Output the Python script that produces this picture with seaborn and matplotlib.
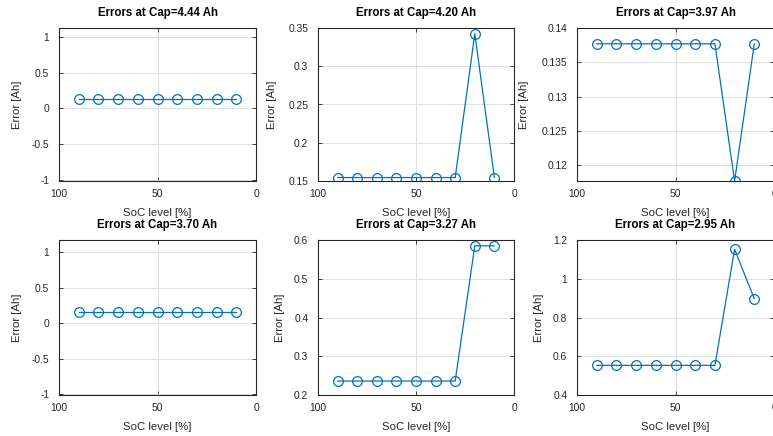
import matplotlib
matplotlib.use("Agg")
import matplotlib.pyplot as plt
import seaborn as sns
import pandas as pd
from matplotlib.ticker import FuncFormatter

soc = [90, 80, 70, 60, 50, 40, 30, 20, 10]
caps = ["4.44", "4.20", "3.97", "3.70", "3.27", "2.95"]
err_444 = [0.13, 0.13, 0.13, 0.13, 0.13, 0.13, 0.13, 0.13, 0.13]
err_420 = [0.1545, 0.1545, 0.1545, 0.1545, 0.1545, 0.1545, 0.1545, 0.3425, 0.1545]
err_397 = [0.1377, 0.1377, 0.1377, 0.1377, 0.1377, 0.1377, 0.1377, 0.1177, 0.1377]
err_370 = [0.155, 0.155, 0.155, 0.155, 0.155, 0.155, 0.155, 0.155, 0.155]
err_327 = [0.236, 0.236, 0.236, 0.236, 0.236, 0.236, 0.236, 0.585, 0.585]
err_295 = [0.553, 0.553, 0.553, 0.553, 0.553, 0.553, 0.553, 1.152, 0.897]
errors = [err_444, err_420, err_397, err_370, err_327, err_295]

ylims = [(-1.02, 1.13), (0.15, 0.35), (0.1177, 0.14),
         (-1.01, 1.17), (0.2, 0.6), (0.4, 1.2)]
yticks = [[-1, -0.5, 0, 0.5, 1], [0.15, 0.2, 0.25, 0.3, 0.35],
          [0.12, 0.125, 0.13, 0.135, 0.14],
          [-1, -0.5, 0, 0.5, 1], [0.2, 0.3, 0.4, 0.5, 0.6],
          [0.4, 0.6, 0.8, 1, 1.2]]
xticks = [100, 50, 0]

sns.set_theme(style="white")
plt.rcParams['font.family'] = ['Liberation Sans', 'DejaVu Sans']

W, H = 773, 436
fig = plt.figure(figsize=(W / 100, H / 100), dpi=100)

# pixel boxes: (left, right) and (top, bottom)
cols = [(59, 256), (318, 514), (577, 774)]
rows = [(28, 181), (240, 395)]
ylab_x = [-0.187, -0.209, -0.243, -0.187, -0.168, -0.167]

axis_col = "#262626"
line_col = "#0072BD"

for i in range(6):
    r, c = divmod(i, 3)
    l, rr = cols[c]
    t, b = rows[r]
    ax = fig.add_axes([l / W, 1 - b / H, (rr - l) / W, (b - t) / H])
    df = pd.DataFrame({"soc": soc, "err": errors[i]})
    sns.lineplot(data=df, x="soc", y="err", ax=ax, color=line_col,
                 linewidth=0.9, marker="o", markersize=7,
                 markerfacecolor="none", markeredgecolor=line_col,
                 markeredgewidth=0.9)
    ax.set_xlim(100, 0)
    ax.set_ylim(*ylims[i])
    ax.set_xticks(xticks)
    ax.set_yticks(yticks[i])
    ax.yaxis.set_major_formatter(FuncFormatter(lambda v, p: f"{v:g}"))
    ax.grid(True, color="#dedede", linewidth=0.7)
    ax.set_axisbelow(True)
    for s in ax.spines.values():
        s.set_color(axis_col)
        s.set_linewidth(0.8)
    ax.tick_params(direction="in", length=3, width=0.6, colors=axis_col,
                   labelsize=7.4, top=True, right=True, bottom=True, left=True)
    ax.tick_params(axis="y", pad=7)
    ax.tick_params(axis="x", pad=6)
    ax.set_xlabel("SoC level [%]", fontsize=8.2, color=axis_col, labelpad=6.5)
    ax.set_ylabel("Error [Ah]", fontsize=8.2, color=axis_col)
    ax.yaxis.set_label_coords(ylab_x[i], 0.5)
    ax.set_title(f"Errors at Cap={caps[i]} Ah", fontsize=8.3,
                 fontweight="bold", color="black", pad=8.5)

fig.savefig("out.png", dpi=100, facecolor="white")
